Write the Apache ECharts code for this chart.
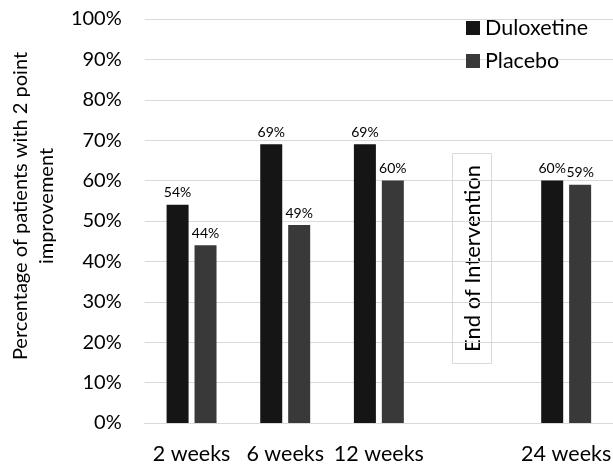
<!DOCTYPE html>
<html>
<head>
<meta charset="utf-8">
<script src="https://cdn.jsdelivr.net/npm/echarts@6/dist/echarts.min.js"></script>
<style>
  html, body { margin: 0; padding: 0; background: #fff; }
  #chart { width: 613px; height: 469px; }
</style>
</head>
<body>
<div id="chart"></div>
<script>
// Follow-up time points (the empty slot holds the end-of-intervention note)
const categories = ['2 weeks', '6 weeks', '12 weeks', '', '24 weeks'];
// Share of patients with a 2 point improvement, in percent
const duloxetine = [54, 69, 69, '-', 60];
const placebo = [44, 49, 60, '-', 59];
const yTicks = { min: 0, max: 100, interval: 10 };

const FONT = 'Lato';
const chart = echarts.init(document.getElementById('chart'), null, { renderer: 'canvas' });

const barLabel = {
  show: true,
  position: 'top',
  distance: 5,
  color: '#000',
  fontFamily: FONT,
  fontSize: 14,
  formatter: p => p.value + '%'
};

chart.setOption({
  animation: false,
  backgroundColor: '#fff',
  textStyle: { fontFamily: FONT },
  grid: { left: 134, top: 19, width: 484, bottom: 46, containLabel: false },
  legend: {
    orient: 'vertical',
    left: 466,
    top: 17,
    padding: 0,
    itemWidth: 14,
    itemHeight: 14,
    itemGap: 11,
    icon: 'rect',
    textStyle: { fontFamily: FONT, fontSize: 21.5, color: '#000' },
    data: ['Duloxetine', 'Placebo']
  },
  xAxis: {
    type: 'category',
    data: categories,
    axisLine: { lineStyle: { color: '#d9d9d9', width: 1 } },
    axisTick: { show: false },
    axisLabel: { color: '#000', fontFamily: FONT, fontSize: 21.5, margin: 20, interval: 0 }
  },
  yAxis: {
    type: 'value',
    min: yTicks.min,
    max: yTicks.max,
    interval: yTicks.interval,
    name: 'Percentage of patients with 2 point\nimprovement',
    nameLocation: 'middle',
    nameRotate: 90,
    nameGap: 71,
    nameTextStyle: { color: '#000', fontFamily: FONT, fontSize: 20, lineHeight: 26, padding: [0, 0, 0, 30] },
    axisLine: { show: false },
    axisTick: { show: false },
    splitLine: { lineStyle: { color: '#d9d9d9', width: 1 } },
    axisLabel: { color: '#000', fontFamily: FONT, fontSize: 20, margin: 23, formatter: '{value}%' }
  },
  series: [
    {
      name: 'Duloxetine',
      type: 'bar',
      data: duloxetine,
      barWidth: 22,
      barGap: '27%',
      itemStyle: { color: '#151515' },
      label: barLabel
    },
    {
      name: 'Placebo',
      type: 'bar',
      data: placebo,
      barWidth: 22,
      barGap: '27%',
      itemStyle: { color: '#393939' },
      label: barLabel
    }
  ],
  graphic: [
    {
      type: 'group',
      left: 452,
      top: 153,
      children: [
        {
          type: 'rect',
          shape: { x: 0, y: 0, width: 39, height: 210 },
          style: { fill: '#fff', stroke: '#d9d9d9', lineWidth: 1 }
        },
        {
          type: 'text',
          x: 20,
          y: 105,
          rotation: Math.PI / 2,
          style: {
            text: 'End of Intervention',
            fontFamily: FONT,
            fontSize: 22,
            fill: '#000',
            align: 'center',
            verticalAlign: 'middle'
          }
        }
      ]
    }
  ]
});
</script>
</body>
</html>
